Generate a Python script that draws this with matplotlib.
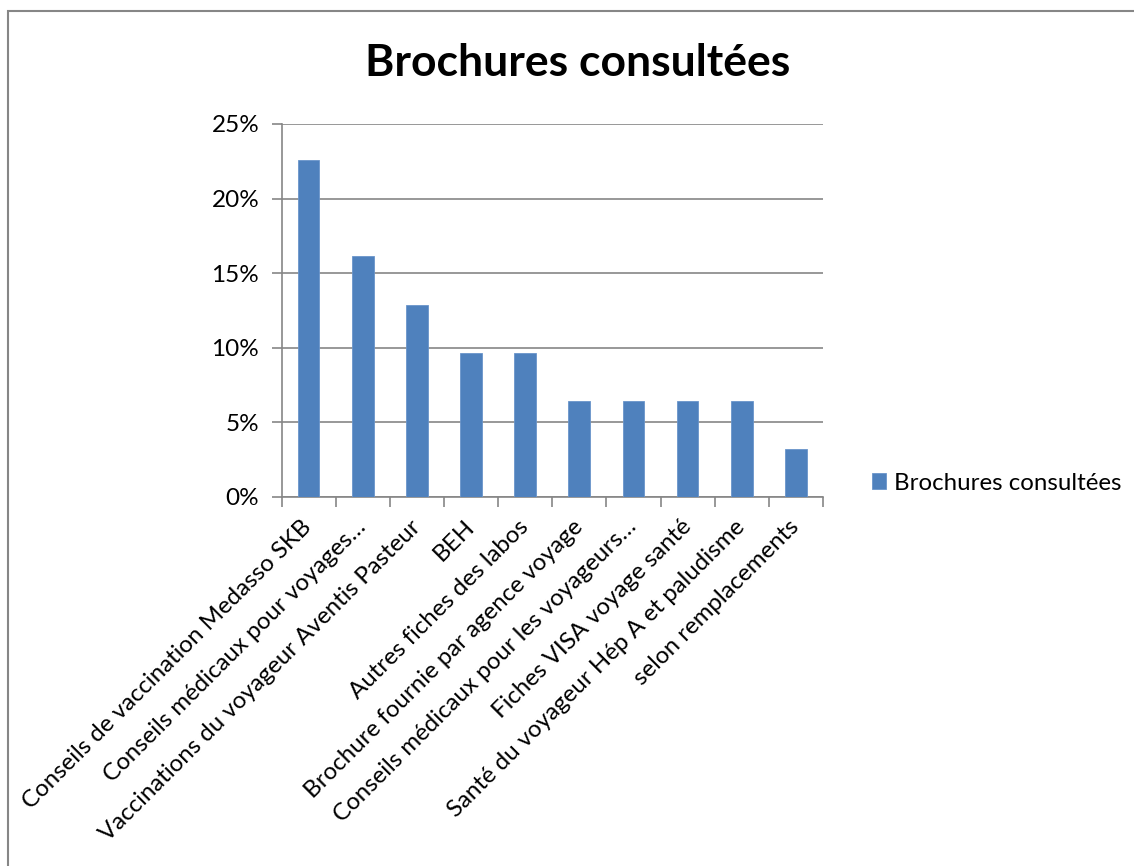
import matplotlib.pyplot as plt
from matplotlib.patches import Rectangle
from matplotlib.ticker import FuncFormatter, FixedLocator

brochures = [
    "Conseils de vaccination Medasso SKB",
    "Conseils médicaux pour voyages…",
    "Vaccinations du voyageur Aventis Pasteur",
    "BEH",
    "Autres fiches des labos",
    "Brochure fournie par agence voyage",
    "Conseils médicaux pour les voyageurs…",
    "Fiches VISA voyage santé",
    "Santé du voyageur Hép A et paludisme",
    "selon remplacements",
]
parts = [0.2258, 0.1613, 0.1290, 0.0968, 0.0968, 0.0645, 0.0645, 0.0645, 0.0645, 0.0323]
serie = "Brochures consultées"

plt.rcParams['font.family'] = ['Lato', 'DejaVu Sans']
bleu = '#4F81BD'
gris = '#868686'

W, H = 1134, 866
fig = plt.figure(figsize=(W / 100, H / 100), dpi=100)

# cadre du graphique (coins bas et droit hors de l'image)
fig.patches.append(Rectangle((8 / W, -0.5), 2, 1.5 - 11 / H, transform=fig.transFigure,
                             fill=False, edgecolor=gris, linewidth=1.5))

ax = fig.add_axes([281.5 / W, 1 - 497 / H, (823 - 281.5) / W, (497 - 124) / H])
x = range(len(parts))
ax.bar(x, parts, width=0.4, color=bleu, edgecolor='#6A95CB', linewidth=0.6, zorder=3,
       label=serie)

ax.set_xlim(-0.5, len(parts) - 0.5)
ax.set_ylim(0, 0.25)
ax.set_yticks([0, 0.05, 0.10, 0.15, 0.20, 0.25])
ax.yaxis.set_major_formatter(FuncFormatter(lambda v, p: f"{v * 100:.0f}%"))
ax.grid(axis='y', color=gris, linewidth=1.2, zorder=0)

for side in ['top', 'right']:
    ax.spines[side].set_visible(False)
for side in ['left', 'bottom']:
    ax.spines[side].set_color(gris)
    ax.spines[side].set_linewidth(1.2)

ax.tick_params(axis='y', length=7, width=1.2, color=gris, labelsize=17.5, pad=9)
# graduations entre les catégories, libellés au centre
ax.xaxis.set_major_locator(FixedLocator([i - 0.5 for i in range(len(parts) + 1)]))
ax.xaxis.set_minor_locator(FixedLocator(list(x)))
ax.tick_params(axis='x', which='major', length=7, width=1.2, color=gris, labelbottom=False)
ax.tick_params(axis='x', which='minor', length=0, pad=19)
ax.set_xticklabels(brochures, minor=True, rotation=45, ha='right', va='center',
                   rotation_mode='anchor', fontsize=17.3)

fig.text(578 / W, 1 - 63 / H, "Brochures consultées", ha='center', va='center',
         fontsize=32, fontweight='bold')

ax.legend(loc='center left', bbox_to_anchor=(850 / W, 1 - 483 / H),
          bbox_transform=fig.transFigure, frameon=False, fontsize=17.3,
          handlelength=0.6, handleheight=0.6, handletextpad=0.35)

fig.savefig('out.png', dpi=100)
